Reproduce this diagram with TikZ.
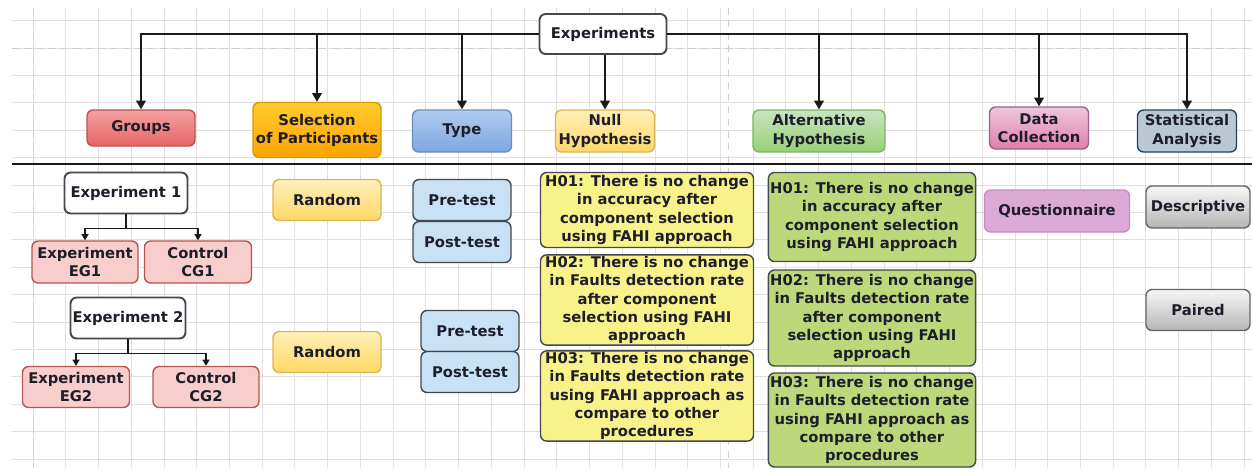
\documentclass[tikz,border=0pt]{standalone}
\usepackage{fontspec}
\setsansfont{DejaVu Sans}
\usetikzlibrary{arrows.meta, positioning, calc}
\definecolor{textDark}{HTML}{1E1E2A}
\definecolor{lineDark}{HTML}{1A1A1A}
\definecolor{boxBorder}{HTML}{45484C}
\definecolor{gridLight}{HTML}{E3DEE0}
\definecolor{gridDash}{HTML}{CFCFCF}
\definecolor{redTop}{HTML}{F4A1A0}
\definecolor{redBot}{HTML}{E66666}
\definecolor{redLine}{HTML}{B85450}
\definecolor{redSoft}{HTML}{F8CECC}
\definecolor{orangeTop}{HTML}{FFCB30}
\definecolor{orangeBot}{HTML}{FFA400}
\definecolor{orangeLine}{HTML}{D79B00}
\definecolor{blueTop}{HTML}{AFCCF1}
\definecolor{blueBot}{HTML}{7EA6E0}
\definecolor{blueLine}{HTML}{6C8EBF}
\definecolor{blueSoft}{HTML}{C8E1F5}
\definecolor{yellowTop}{HTML}{FFEEB8}
\definecolor{yellowBot}{HTML}{FFD966}
\definecolor{yellowLine}{HTML}{D6B656}
\definecolor{yellowSoft}{HTML}{F7F28A}
\definecolor{greenTop}{HTML}{C9E4C0}
\definecolor{greenBot}{HTML}{97D077}
\definecolor{greenLine}{HTML}{82B366}
\definecolor{greenSoft}{HTML}{BCD87A}
\definecolor{pinkTop}{HTML}{EFC6DC}
\definecolor{pinkBot}{HTML}{E07FAA}
\definecolor{pinkLine}{HTML}{996185}
\definecolor{mauveSoft}{HTML}{DBA9D5}
\definecolor{mauveLine}{HTML}{C48DBE}
\definecolor{steelSoft}{HTML}{BAC8D3}
\definecolor{steelLine}{HTML}{23445D}
\definecolor{grayTop}{HTML}{F7F7F7}
\definecolor{grayBot}{HTML}{B5B5B5}
\definecolor{grayLine}{HTML}{666666}
\tikzset{
    box/.style={draw=boxBorder, line width=0.8pt, rounded corners=3.5pt, align=center,
        inner sep=1pt, text=textDark, font=\sffamily\bfseries\fontsize{8.4}{10.3}\selectfont},
    boxsize/.style 2 args={minimum width=#1*0.02cm, minimum height=#2*0.02cm},
    link/.style={-{Triangle[length=5pt, width=5.5pt]}, line width=1.1pt, draw=lineDark},
    smallLink/.style={-{Triangle[length=3.5pt, width=4pt]}, line width=0.8pt, draw=lineDark},
    gridLine/.style={draw=gridLight, line width=0.4pt},
    gridMajor/.style={draw=gridDash, line width=0.5pt, dash pattern=on 4pt off 3pt}
}

\begin{document}
\begin{tikzpicture}[x=0.02cm, y=-0.02cm]
    % --- BACKGROUND GRID ---
    \fill[white] (0,0) rectangle (1252,468);
    \useasboundingbox (0,0) rectangle (1252,468);
    \foreach \k in {0,...,37} \draw[gridLine] ({33+32.73*\k},8) -- ({33+32.73*\k},468);
    \foreach \k in {0,...,16} \draw[gridLine] (12,{20.6+27.4*\k}) -- (1252,{20.6+27.4*\k});
    \draw[gridMajor] (33,8) -- (33,468);
    \draw[gridMajor] (728,8) -- (728,468);
    \draw[gridMajor] (12,48) -- (1252,48);

    % --- ROOT AND CATEGORIES ---
    \node[box, boxsize={127}{40}, fill=white, line width=1.1pt] (exp) at (603,34) {Experiments};
    \node[box, boxsize={108}{36}, top color=redTop, bottom color=redBot, draw=redLine] (groups) at (141,128) {Groups};
    \node[box, boxsize={128}{55}, top color=orangeTop, bottom color=orangeBot, draw=orangeLine] (sel) at (317,130) {Selection\\of Participants};
    \node[box, boxsize={99}{42}, top color=blueTop, bottom color=blueBot, draw=blueLine] (type) at (462,131) {Type};
    \node[box, boxsize={99}{42}, top color=yellowTop, bottom color=yellowBot, draw=yellowLine] (null) at (605,131) {Null\\Hypothesis};
    \node[box, boxsize={132}{42}, top color=greenTop, bottom color=greenBot, draw=greenLine] (alt) at (819,131) {Alternative\\Hypothesis};
    \node[box, boxsize={99}{42}, top color=pinkTop, bottom color=pinkBot, draw=pinkLine] (data) at (1039,128) {Data\\Collection};
    \node[box, boxsize={99}{42}, fill=steelSoft, draw=steelLine] (stat) at (1187,131) {Statistical\\Analysis};

    \draw[link] (exp.west) -| (groups.north);
    \draw[link] (exp.east) -| (stat.north);
    \draw[link] (exp.west -| sel.north) -- (sel.north);
    \draw[link] (exp.west -| type.north) -- (type.north);
    \draw[link] (exp.south -| null.north) -- (null.north);
    \draw[link] (exp.east -| alt.north) -- (alt.north);
    \draw[link] (exp.east -| data.north) -- (data.north);

    % --- SEPARATOR ---
    \draw[lineDark, line width=1.5pt] (12,164) -- (1252,164);

    % --- GROUPS ---
    \node[box, boxsize={123}{41}, fill=white, line width=1.1pt] (exp1) at (126,193) {Experiment 1};
    \node[box, boxsize={106}{42}, fill=redSoft, draw=redLine] (eg1) at (85,262) {Experiment\\EG1};
    \node[box, boxsize={107}{42}, fill=redSoft, draw=redLine] (cg1) at (198,262) {Control\\CG1};
    \coordinate (fork1) at ($(exp1.south)+(0,14)$);
    \draw[lineDark, line width=0.8pt] (exp1.south) -- (fork1);
    \draw[smallLink] (fork1) -| (eg1.north);
    \draw[smallLink] (fork1) -| (cg1.north);

    \node[box, boxsize={115}{41}, fill=white, line width=1.1pt] (exp2) at (128,318) {Experiment 2};
    \node[box, boxsize={107}{41}, fill=redSoft, draw=redLine] (eg2) at (76,387) {Experiment\\EG2};
    \node[box, boxsize={106}{41}, fill=redSoft, draw=redLine] (cg2) at (206,387) {Control\\CG2};
    \coordinate (fork2) at ($(exp2.south)+(0,14)$);
    \draw[lineDark, line width=0.8pt] (exp2.south) -- (fork2);
    \draw[smallLink] (fork2) -| (eg2.north);
    \draw[smallLink] (fork2) -| (cg2.north);

    % --- SELECTION AND TYPE ---
    \node[box, boxsize={108}{41}, top color=yellowTop, bottom color=yellowBot, draw=yellowLine] (rand1) at (327,200) {Random};
    \node[box, boxsize={108}{41}, top color=yellowTop, bottom color=yellowBot, draw=yellowLine] (rand2) at (327,352) {Random};
    \node[box, boxsize={98}{41}, fill=blueSoft] (pre1) at (462,200) {Pre-test};
    \node[box, boxsize={98}{41}, fill=blueSoft] (post1) at (462,242) {Post-test};
    \node[box, boxsize={98}{41}, fill=blueSoft] (pre2) at (470,331) {Pre-test};
    \node[box, boxsize={98}{41}, fill=blueSoft] (post2) at (470,372) {Post-test};

    % --- HYPOTHESES ---
    \node[box, boxsize={213}{75}, fill=yellowSoft] (nullA) at (647,210)
        {H01: There is no change\\in accuracy after\\component selection\\using FAHI approach};
    \node[box, boxsize={213}{89}, fill=yellowSoft] (nullB) at (647,300)
        {H02: There is no change\\in Faults detection rate\\after component\\selection using FAHI\\approach};
    \node[box, boxsize={213}{89}, fill=yellowSoft] (nullC) at (647,396)
        {H03: There is no change\\in Faults detection rate\\using FAHI approach as\\compare to other\\procedures};
    \node[box, boxsize={206}{89}, fill=greenSoft] (altA) at (872,217)
        {H01: There is no change\\in accuracy after\\component selection\\using FAHI approach};
    \node[box, boxsize={206}{96}, fill=greenSoft] (altB) at (872,318)
        {H02: There is no change\\in Faults detection rate\\after component\\selection using FAHI\\approach};
    \node[box, boxsize={206}{94}, fill=greenSoft] (altC) at (872,420)
        {H03: There is no change\\in Faults detection rate\\using FAHI approach as\\compare to other\\procedures};

    % --- DATA AND ANALYSIS ---
    \node[box, boxsize={145}{42}, fill=mauveSoft, draw=mauveLine] (quest) at (1057,211) {Questionnaire};
    \node[box, boxsize={104}{42}, top color=grayTop, bottom color=grayBot, draw=grayLine] (desc) at (1198,207) {Descriptive};
    \node[box, boxsize={104}{41}, top color=grayTop, bottom color=grayBot, draw=grayLine] (paired) at (1198,310) {Paired};
\end{tikzpicture}
\end{document}
